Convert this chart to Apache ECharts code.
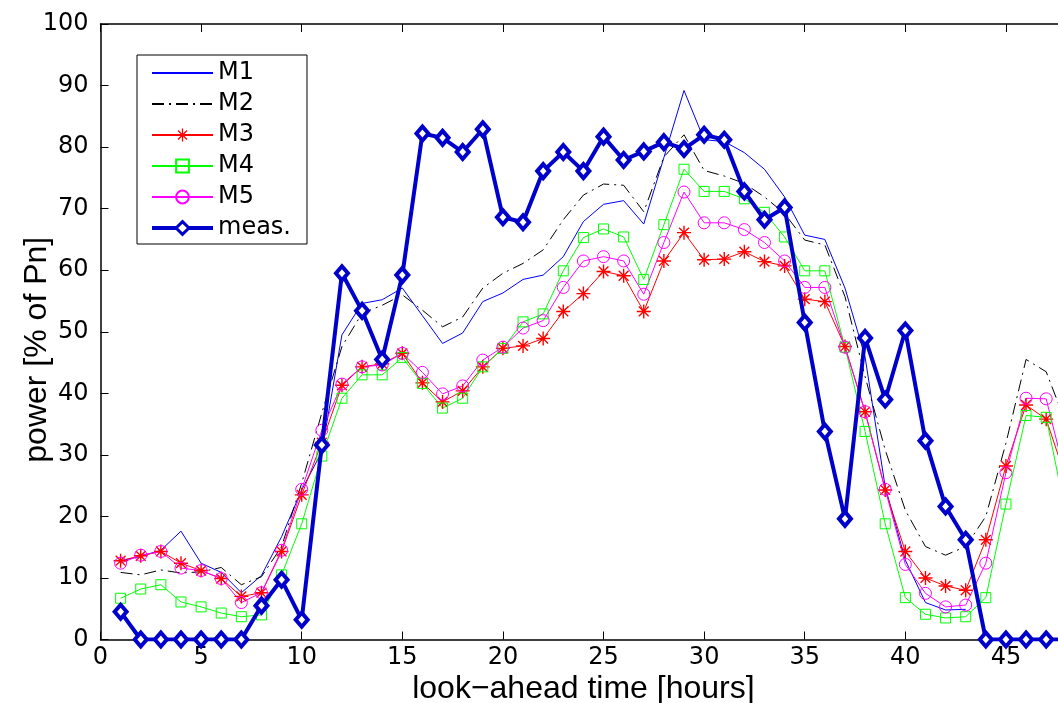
<!DOCTYPE html>
<html>
<head>
<meta charset="utf-8">
<script src="https://cdn.jsdelivr.net/npm/echarts@6/dist/echarts.min.js"></script>
<style>
  html, body { margin: 0; padding: 0; background: #fff; }
  #chart { width: 1058px; height: 703px; }
</style>
</head>
<body>
<div id="chart"></div>
<script>
// look-ahead hours
var hours = [1, 2, 3, 4, 5, 6, 7, 8, 9, 10, 11, 12, 13, 14, 15, 16, 17, 18, 19, 20, 21, 22, 23, 24,
    25, 26, 27, 28, 29, 30, 31, 32, 33, 34, 35, 36, 37, 38, 39, 40, 41, 42, 43, 44, 45, 46, 47, 48];

// model forecasts, % of Pn
var m1 = [12.8, 13.5, 14.5, 17.6, 12.4, 10.9, 7.6, 10.4, 16.7, 24.3, 30.5, 49.5, 54.6, 55.2, 57.1, 52.6,
    48.1, 49.8, 54.9, 56.3, 58.5, 59.2, 62.2, 67.9, 70.7, 71.3, 67.5, 78.3, 89.2, 81.2, 80.9, 79.1,
    76.4, 71.9, 65.7, 65.0, 57.1, 45.9, 24.8, 12.9, 6.0, 4.8, 4.9, null, null, null, null, null];
var m2 = [10.9, 10.5, 11.3, 10.8, 11.0, 11.7, 8.9, 10.2, 15.1, 25.4, 36.8, 47.6, 53.0, 54.3, 56.0, 53.5,
    50.8, 52.4, 57.1, 59.5, 61.1, 63.3, 68.2, 72.2, 74.0, 73.8, 69.5, 78.4, 82.0, 76.2, 75.3, 74.1,
    71.9, 69.2, 64.9, 64.1, 55.7, 42.7, 30.8, 21.0, 15.1, 13.7, 15.1, 20.0, 31.9, 45.5, 43.5, 35.0];
var m3 = [12.8, 13.6, 14.3, 12.4, 11.2, 9.9, 7.0, 7.6, 14.3, 23.5, 32.0, 41.3, 44.3, 44.8, 46.5, 41.7,
    38.6, 40.4, 44.3, 47.3, 47.7, 48.9, 53.3, 56.2, 59.8, 59.1, 53.3, 61.5, 66.1, 61.7, 61.8, 63.0,
    61.4, 60.7, 55.3, 54.9, 47.6, 37.0, 24.3, 14.3, 10.0, 8.7, 8.0, 16.2, 28.2, 38.1, 35.8, 26.0];
var m4 = [6.7, 8.2, 8.9, 6.1, 5.3, 4.3, 3.7, 4.0, 10.5, 18.8, 29.8, 39.2, 43.0, 43.0, 45.8, 41.6,
    37.6, 39.2, 44.3, 47.3, 51.6, 52.9, 59.9, 65.3, 66.7, 65.4, 58.5, 67.4, 76.4, 72.8, 72.8, 71.6,
    69.4, 65.4, 59.9, 59.9, 47.5, 33.8, 18.8, 6.8, 4.1, 3.5, 3.7, 6.8, 22.0, 36.4, 36.1, 20.0];
var m5 = [12.4, 13.7, 14.3, 11.6, 11.2, 9.9, 6.0, 7.6, 14.5, 24.4, 34.0, 41.5, 44.3, 44.6, 46.5, 43.4,
    39.9, 41.2, 45.4, 47.5, 50.6, 51.8, 57.2, 61.5, 62.2, 61.5, 56.1, 64.5, 72.7, 67.7, 67.7, 66.6,
    64.5, 61.5, 57.2, 57.2, 47.5, 37.0, 24.4, 12.2, 7.5, 5.3, 5.6, 12.4, 27.1, 39.2, 39.1, 26.0];
// measured power
var meas = [4.5, 0, 0, 0, 0, 0, 0, 5.5, 9.7, 3.2, 31.6, 59.5, 53.4, 45.5, 59.2, 82.2,
    81.5, 79.2, 82.9, 68.6, 67.8, 76.1, 79.2, 76.1, 81.7, 77.9, 79.3, 80.8, 79.7, 82.0, 81.2, 72.8,
    68.2, 70.2, 51.5, 33.8, 19.6, 49.0, 39.0, 50.2, 32.3, 21.6, 16.2, 0, 0, 0, 0, 0];

var yTicks = [0, 10, 20, 30, 40, 50, 60, 70, 80, 90, 100];

var pairs = function (vals) {
    return hours.map(function (h, i) { return [h, vals[i]]; });
};

// asterisk marker, made of four thin bars
var star = 'path://M-1,-10 L1,-10 L1,10 L-1,10 Z M-10,-1 L10,-1 L10,1 L-10,1 Z ' +
    'M-6.3,-7.7 L7.7,6.3 L6.3,7.7 L-7.7,-6.3 Z M6.3,-7.7 L7.7,-6.3 L-6.3,7.7 L-7.7,6.3 Z';

var tickFont = { fontFamily: 'DejaVu Sans', fontSize: 24, color: '#000' };
var titleFont = { fontFamily: 'Liberation Sans', fontSize: 32, color: '#000' };
var axisLine = { show: true, onZero: false, lineStyle: { color: '#000', width: 1.5 } };
var inTick = { show: true, inside: true, length: 8, lineStyle: { color: '#000', width: 1 } };

var option = {
    animation: false,
    backgroundColor: '#fff',
    grid: {
        left: 100.5,
        top: 24,
        width: 965.8,
        height: 615.5,
        containLabel: false,
        outerBoundsMode: 'none'
    },
    legend: {
        orient: 'vertical',
        left: 137,
        top: 55,
        padding: [6, 16, 4, 13],
        itemWidth: 61,
        itemHeight: 16,
        itemGap: 7,
        backgroundColor: '#fff',
        borderColor: '#000',
        borderWidth: 1,
        borderRadius: 0,
        textStyle: { fontFamily: 'DejaVu Sans', fontSize: 24, color: '#000', lineHeight: 24 },
        data: [
            { name: 'M1', itemStyle: { opacity: 0 } },
            { name: 'M2', itemStyle: { opacity: 0 } },
            'M3',
            'M4',
            'M5',
            { name: 'meas.', lineStyle: { width: 4, color: '#0000cc' }, itemStyle: { borderWidth: 3 } }
        ]
    },
    xAxis: [
        {
            type: 'value',
            min: 0,
            max: 48,
            interval: 5,
            position: 'bottom',
            axisLine: axisLine,
            axisTick: inTick,
            splitLine: { show: false },
            axisLabel: Object.assign({ margin: 6, showMaxLabel: false }, tickFont),
            name: 'look\u2212ahead time [hours]',
            nameLocation: 'middle',
            nameGap: 34,
            nameMoveOverlap: false,
            nameTextStyle: titleFont
        },
        {
            type: 'value',
            min: 0,
            max: 48,
            interval: 5,
            position: 'top',
            axisLine: axisLine,
            axisTick: inTick,
            splitLine: { show: false },
            axisLabel: { show: false }
        }
    ],
    yAxis: [
        {
            type: 'value',
            min: yTicks[0],
            max: yTicks[yTicks.length - 1],
            interval: 10,
            position: 'left',
            axisLine: axisLine,
            axisTick: inTick,
            splitLine: { show: false },
            axisLabel: Object.assign({ margin: 12 }, tickFont),
            name: 'power [% of Pn]',
            nameLocation: 'middle',
            nameGap: 47,
            nameMoveOverlap: false,
            nameTextStyle: Object.assign({ padding: [0, 36, 0, 0] }, titleFont)
        },
        {
            type: 'value',
            min: 0,
            max: 100,
            interval: 10,
            position: 'right',
            axisLine: axisLine,
            axisTick: inTick,
            splitLine: { show: false },
            axisLabel: { show: false }
        }
    ],
    series: [
        {
            name: 'M1',
            type: 'line',
            data: pairs(m1),
            symbol: 'none',
            lineStyle: { color: '#0000ff', width: 1 },
            itemStyle: { color: '#0000ff' }
        },
        {
            name: 'M2',
            type: 'line',
            data: pairs(m2),
            symbol: 'none',
            lineStyle: { color: '#000', width: 1, type: [12, 5, 2, 5] },
            itemStyle: { color: '#000' }
        },
        {
            name: 'M3',
            type: 'line',
            data: pairs(m3),
            symbol: star,
            symbolSize: 14,
            lineStyle: { color: '#ff0000', width: 1 },
            itemStyle: { color: '#ff0000', borderWidth: 0 }
        },
        {
            name: 'M4',
            type: 'line',
            data: pairs(m4),
            symbol: 'rect',
            symbolSize: 10,
            lineStyle: { color: '#00ff00', width: 1 },
            itemStyle: { color: 'rgba(0,0,0,0)', borderColor: '#00ff00', borderWidth: 1 }
        },
        {
            name: 'M5',
            type: 'line',
            data: pairs(m5),
            symbol: 'circle',
            symbolSize: 12,
            lineStyle: { color: '#ff00ff', width: 1 },
            itemStyle: { color: 'rgba(0,0,0,0)', borderColor: '#ff00ff', borderWidth: 1 }
        },
        {
            name: 'meas.',
            type: 'line',
            data: pairs(meas),
            symbol: 'diamond',
            symbolSize: [12, 14],
            lineStyle: { color: '#0000cc', width: 4 },
            itemStyle: { color: '#fff', borderColor: '#0000cc', borderWidth: 4 },
            z: 5
        }
    ]
};

var chart = echarts.init(document.getElementById('chart'), null, { renderer: 'canvas' });
chart.setOption(option);
</script>
</body>
</html>
